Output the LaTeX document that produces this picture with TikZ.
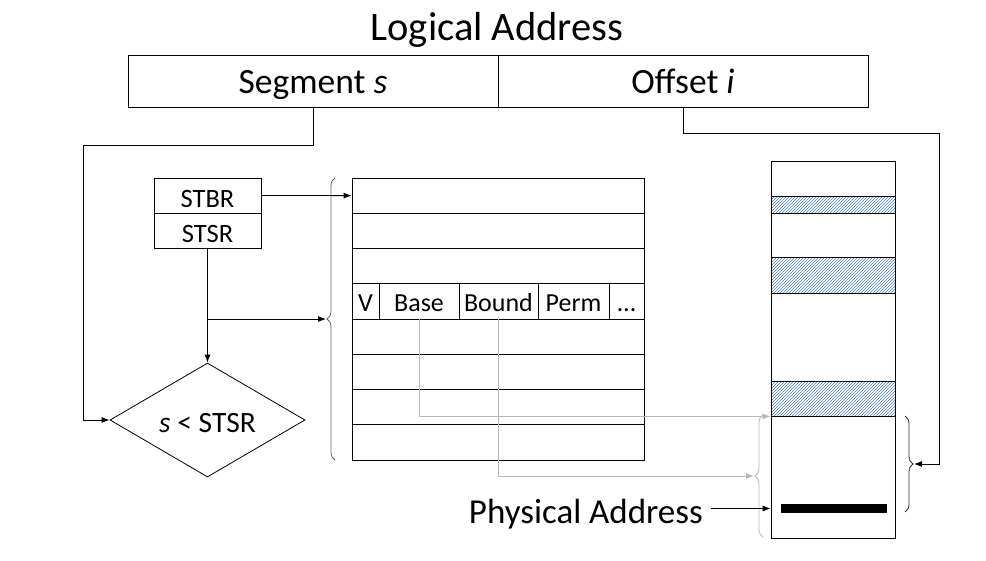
\documentclass[tikz,border=0pt]{standalone}
\usepackage{fontspec}
\setmainfont{Carlito}
\usetikzlibrary{arrows.meta,shapes.geometric,decorations.pathreplacing,patterns}
\newcommand\myfs[1]{\fontsize{#1}{#1}\selectfont}
\definecolor{hatch}{RGB}{79,129,189}
\definecolor{lgray}{RGB}{185,185,185}
\definecolor{mgray}{RGB}{100,100,100}
\begin{document}
\begin{tikzpicture}[x=1pt,y=-1pt,
  box/.style={draw, line width=0.8pt, inner sep=0pt},
  cell/.style={box, font=\myfs{26}, text height=20.6pt, text depth=0pt, minimum height=35.25pt},
  reg/.style={box, font=\myfs{26.5}, text height=23.4pt, text depth=0pt, minimum width=107pt, minimum height=35pt},
  addr/.style={box, font=\myfs{35.5}, text height=24pt, text depth=0pt, minimum width=370pt, minimum height=52pt},
  arr/.style={line width=0.8pt, -{Latex[length=8pt,width=6pt]}},
  garr/.style={line width=0.8pt, draw=lgray, -{Latex[length=8pt,width=6pt]}},
  brc/.style={decorate, decoration={brace, amplitude=8pt}, line width=0.8pt},
  band/.style={draw, line width=0.8pt, pattern=north east lines, pattern color=hatch, minimum width=124pt, inner sep=0pt}
]
\useasboundingbox (0,0) rectangle (986,560);
\fill[white] (0,0) rectangle (986,560);

% logical address
\node[font=\myfs{40.5}, anchor=base, inner sep=0pt] (title) at (497,40) {Logical Address};
\node[addr] (seg) at (313,81) {Segment \textit{s}};
\node[addr] (off) at (683,81) {Offset \textit{i}};

% registers
\node[reg] (stbr) at (207.5,195.5) {STBR};
\node[reg] (stsr) at (207.5,230.5) {STSR};

% comparison
\node[draw, shape=diamond, aspect=1.7, minimum width=195pt, minimum height=114pt, inner sep=0pt,
      line width=0.8pt, font=\myfs{29.5}, text height=24pt, text depth=0pt] (cmp) at (207.5,420) {\textit{s} < STSR};

% segment table
\foreach \i in {1,2,3,5,6,7,8}
  \node[cell, minimum width=292pt] (r\i) at (498,{178+35.25*(\i-0.5)}) {};
\node[cell, minimum width=27pt] (cV) at (365.5,301.4) {V};
\node[cell, minimum width=80pt] (cBase) at (419,301.4) {Base};
\node[cell, minimum width=79pt] (cBound) at (498.5,301.4) {Bound};
\node[cell, minimum width=71pt] (cPerm) at (573.5,301.4) {Perm};
\node[cell, minimum width=35pt] (cDots) at (626.5,301.4) {…};

% memory
\node[box, minimum width=124pt, minimum height=377pt] (mem) at (833,349.5) {};
\node[band, minimum height=17pt] (b1) at (833,204.5) {};
\node[band, minimum height=36pt] (b2) at (833,275) {};
\node[band, minimum height=35pt] (b3) at (833,398.5) {};
\node[fill=black, minimum width=106pt, minimum height=9pt, inner sep=0pt] (bar) at (834,508.5) {};

% braces
\draw[brc, mgray] (335,460) -- (335,178);
\coordinate (tbtip) at (326,319);
\draw[brc, lgray] (763,537) -- (763,415);
\coordinate (gbtip) at (754,476);
\draw[brc, black!80] (905,416) -- (905,512);
\coordinate (rbtip) at (914,464);

% connectors
\draw[arr] (stbr.east) -- (r1.west);
\draw[arr] (stsr.south) -- (cmp.north);
\coordinate (br) at (stsr.south |- tbtip);
\draw[arr] (br) -- (tbtip);
\coordinate (c1) at (83,145);
\draw[arr] (seg.south) |- (c1) |- (cmp.west);
\coordinate (c2) at (939,133);
\draw[arr] (off.south) |- (c2) |- (rbtip);
\draw[garr] (cBase.south) |- (b3.south west);
\draw[garr] (cBound.south) |- (gbtip);

% physical address
\node[font=\myfs{35}, anchor=base east, inner sep=0pt] (phys) at (703,523) {Physical Address};
\coordinate (pa) at ([xshift=8pt]phys.east);
\draw[arr] (pa |- bar.west) -- (mem.west |- bar.west);
\end{tikzpicture}
\end{document}
